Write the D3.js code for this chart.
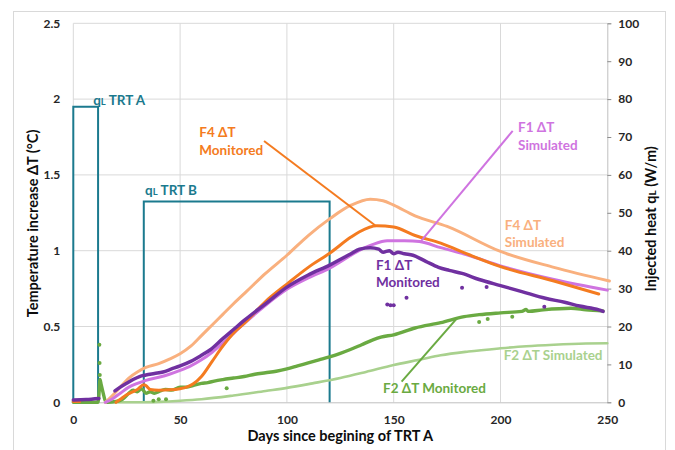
<!DOCTYPE html>
<html>
<head>
<meta charset="utf-8">
<script src="https://cdn.jsdelivr.net/npm/d3@7"></script>
<style>
  body { margin: 0; background: #fff; }
  text { font-family: Lato, "Open Sans", sans-serif; font-weight: bold; }
</style>
</head>
<body>
<div id="chart"></div>
<script>
// data: [day, ΔT °C]
const f4Simulated = [[15,0],[18,0.04],[22,0.1],[26,0.16],[30,0.2],[34,0.23],[40,0.255],[45,0.285],[50,0.32],[55,0.37],[60,0.44],[65,0.51],[70,0.58],[75,0.65],[81,0.73],[90,0.85],[100,0.97],[110,1.1],[120,1.21],[130,1.3],[139,1.34],[145,1.33],[150,1.3],[160,1.23],[175,1.16],[200,0.995],[225,0.89],[251,0.8]]
const f1Simulated = [[15,0],[18,0.02],[22,0.06],[26,0.1],[30,0.125],[34,0.145],[40,0.165],[45,0.185],[50,0.21],[55,0.24],[60,0.28],[65,0.33],[70,0.39],[80,0.52],[90,0.64],[100,0.745],[110,0.82],[120,0.885],[130,0.97],[135,1.01],[140,1.04],[147,1.066],[155,1.065],[162,1.06],[172,1.02],[185,0.97],[200,0.9],[225,0.81],[250,0.74]]
const f2Simulated = [[20,0],[30,0],[40,0.003],[50,0.01],[60,0.02],[75,0.045],[90,0.075],[100,0.095],[112,0.125],[125,0.16],[137,0.2],[150,0.246],[162,0.28],[172,0.31],[185,0.335],[200,0.356],[212,0.37],[225,0.38],[240,0.388],[250,0.39]]

const f4MonitoredA = [[0,0.005],[3,0.005]]
const f4MonitoredB = [[20,0],[22,0.02],[25,0.05],[28,0.07],[30,0.085],[33,0.115],[34,0.11],[36,0.085],[40,0.08],[45,0.082],[50,0.09],[53,0.1],[56,0.12],[60,0.17],[65,0.27],[70,0.37],[76,0.47],[80,0.52],[90,0.665],[100,0.78],[110,0.89],[120,0.983],[130,1.09],[134,1.125],[142,1.165],[150,1.156],[160,1.1],[172,1.05],[185,0.975],[200,0.895],[225,0.8],[246,0.714]]

const f1MonitoredA = [[0,0.015],[6,0.018],[12,0.025]]
const f1MonitoredB = [[19.5,0.075],[22,0.1],[25,0.125],[28,0.15],[31,0.17],[34,0.18],[38,0.19],[42,0.2],[46,0.22],[50,0.24],[55,0.27],[60,0.31],[64,0.345],[70,0.42],[75,0.48],[80,0.54],[90,0.65],[100,0.76],[110,0.84],[120,0.905],[130,0.98],[134,1.01],[139,1.02],[143,1.01],[145,0.99],[148,1.0],[150,0.98],[152,0.99],[155,0.98],[159,0.97],[165,0.93],[171,0.89],[176,0.87],[182,0.85],[190,0.81],[200,0.77],[210,0.73],[221,0.686],[230,0.66],[237,0.635],[246,0.61],[248,0.6]]
const f1Outliers = [[147,0.645],[148.5,0.64],[150,0.64],[156,0.69],[182,0.755],[193.5,0.76],[220.5,0.63]]

const f2Monitored = [[0,0],[11.5,0],[12,0.05],[12.5,0.15],[13,0.12],[14,0.06],[15,0.01],[16,0],[20,0.005],[23,0.02],[26,0.06],[28,0.08],[30,0.07],[32,0.09],[34,0.06],[36,0.07],[38,0.06],[40,0.07],[43,0.085],[46,0.08],[50,0.1],[53,0.1],[56,0.11],[60,0.125],[63,0.13],[66,0.14],[70,0.15],[75,0.16],[80,0.17],[85,0.185],[90,0.195],[95,0.205],[100,0.22],[105,0.24],[110,0.26],[115,0.28],[120,0.3],[125,0.323],[130,0.35],[135,0.38],[140,0.41],[144,0.43],[150,0.445],[160,0.49],[172,0.525],[183,0.565],[190,0.578],[200,0.59],[210,0.6],[212,0.612],[213,0.6],[220,0.61],[233,0.62],[240,0.61],[248,0.602]]
const f2Outliers = [[12.2,0.38],[12.3,0.26],[12.4,0.18],[37.5,0.01],[40,0.02],[43.4,0.02],[71.8,0.092],[190,0.53],[194,0.55],[205.5,0.565]]

// injected heat: [day start, day end, W/m]
const heatSteps = [[0, 11.6, 78], [33, 120, 53]]

const xTicks = [0, 50, 100, 150, 200, 250]
const yTicks = [0, 0.5, 1, 1.5, 2, 2.5]
const y2Ticks = [0, 10, 20, 30, 40, 50, 60, 70, 80, 90, 100]

const colors = {
  teal: '#1b7a8e', f4Mon: '#f47b20', f4Sim: '#f9b07e', f1Sim: '#cf74e0',
  f1Mon: '#7030a0', f2Mon: '#6aaa42', f2Sim: '#a9d18e'
}

const width = 675, height = 450
const marginLeft = 73.3, marginRight = 675 - 607.3, marginTop = 23.3, marginBottom = 450 - 402.3

const svg = d3.select('#chart').append('svg')
  .attr('width', width)
  .attr('height', height)

// outer frame
svg.append('rect')
  .attr('x', 13.5).attr('y', 11.5)
  .attr('width', 652).attr('height', 460)
  .attr('fill', 'none').attr('stroke', '#d9d9d9')

const x = d3.scaleLinear().domain([0, 250]).range([marginLeft, width - marginRight])
const y = d3.scaleLinear().domain([0, 2.5]).range([height - marginBottom, marginTop])
const y2 = d3.scaleLinear().domain([0, 100]).range([height - marginBottom, marginTop])

// grid
svg.append('g').selectAll('line')
  .data(yTicks.slice(1))
  .join('line')
  .attr('x1', x(0)).attr('x2', x(250))
  .attr('y1', d => y(d)).attr('y2', d => y(d))
  .attr('stroke', '#d9d9d9')
svg.append('g').selectAll('line')
  .data(xTicks.slice(0, -1))
  .join('line')
  .attr('x1', d => x(d)).attr('x2', d => x(d))
  .attr('y1', y(0)).attr('y2', y(2.5))
  .attr('stroke', '#d9d9d9')

// axes
const xAxis = svg.append('g')
  .attr('transform', `translate(0,${y(0)})`)
  .call(d3.axisBottom(x).tickValues(xTicks).tickSize(0).tickPadding(13))
const yAxis = svg.append('g')
  .attr('transform', `translate(${x(0) - 10},0)`)
  .call(d3.axisLeft(y).tickValues(yTicks).tickSize(0).tickFormat(d3.format('')))
const y2Axis = svg.append('g')
  .attr('transform', `translate(${x(250)},0)`)
  .call(d3.axisRight(y2).tickValues(y2Ticks).tickSize(4).tickPadding(7))

xAxis.select('.domain').attr('stroke', '#bfbfbf')
yAxis.select('.domain').remove()
y2Axis.select('.domain').attr('stroke', '#bfbfbf')
y2Axis.selectAll('.tick line').attr('stroke', '#8c8c8c')
svg.selectAll('.tick text')
  .attr('font-family', 'Lato, sans-serif')
  .attr('font-weight', 'bold')
  .attr('font-size', 12)
  .attr('fill', '#262626')

// axis titles
svg.append('text')
  .attr('x', (x(0) + x(250)) / 2).attr('y', 441)
  .attr('text-anchor', 'middle').attr('font-size', 14.5).attr('fill', '#0d0d0d')
  .text('Days since begining of TRT A')
svg.append('text')
  .attr('transform', `translate(38,${y(1.18)}) rotate(-90)`)
  .attr('text-anchor', 'middle').attr('font-size', 14.5).attr('fill', '#0d0d0d')
  .text('Temperature increase ΔT (°C)')
const rightTitle = svg.append('text')
  .attr('transform', `translate(656,${y(1.21)}) rotate(-90)`)
  .attr('text-anchor', 'middle').attr('font-size', 14.5).attr('fill', '#0d0d0d')
rightTitle.append('tspan').text('Injected heat q')
rightTitle.append('tspan').attr('font-size', 10).text('L')
rightTitle.append('tspan').text(' (W/m)')

// heat input steps (right axis)
svg.append('g').selectAll('path')
  .data(heatSteps)
  .join('path')
  .attr('d', d => d3.line()([[x(d[0]), y2(0)], [x(d[0]), y2(d[2])], [x(d[1]), y2(d[2])], [x(d[1]), y2(0)]]))
  .attr('fill', 'none')
  .attr('stroke', colors.teal)
  .attr('stroke-width', 2)

const line = d3.line()
  .x(d => x(d[0]))
  .y(d => y(d[1]))
  .curve(d3.curveMonotoneX)

const series = [
  { data: f2Simulated, color: colors.f2Sim, w: 2.6 },
  { data: f2Monitored, color: colors.f2Mon, w: 3.4 },
  { data: f4Simulated, color: colors.f4Sim, w: 3 },
  { data: f1Simulated, color: colors.f1Sim, w: 3 },
  { data: f4MonitoredA, color: colors.f4Mon, w: 3 },
  { data: f4MonitoredB, color: colors.f4Mon, w: 3 },
  { data: f1MonitoredA, color: colors.f1Mon, w: 3.5 },
  { data: f1MonitoredB, color: colors.f1Mon, w: 3.5 }
]

svg.append('g').selectAll('path')
  .data(series)
  .join('path')
  .attr('d', d => line(d.data))
  .attr('fill', 'none')
  .attr('stroke', d => d.color)
  .attr('stroke-width', d => d.w)
  .attr('stroke-linecap', 'round')
  .attr('stroke-linejoin', 'round')

// stray monitored readings
svg.append('g').selectAll('circle')
  .data(f2Outliers)
  .join('circle')
  .attr('cx', d => x(d[0])).attr('cy', d => y(d[1])).attr('r', 2)
  .attr('fill', colors.f2Mon)
svg.append('g').selectAll('circle')
  .data(f1Outliers)
  .join('circle')
  .attr('cx', d => x(d[0])).attr('cy', d => y(d[1])).attr('r', 2)
  .attr('fill', colors.f1Mon)

// leader lines: [from day, from ΔT, to day, to ΔT]
const leaders = [
  { p: [89.3, 1.724, 141.7, 1.163], color: colors.f4Mon },
  { p: [205.7, 1.79, 162.3, 1.055], color: colors.f1Sim },
  { p: [153.7, 0.136, 179.5, 0.552], color: colors.f2Mon }
]
svg.append('g').selectAll('line')
  .data(leaders)
  .join('line')
  .attr('x1', d => x(d.p[0])).attr('y1', d => y(d.p[1]))
  .attr('x2', d => x(d.p[2])).attr('y2', d => y(d.p[3]))
  .attr('stroke', d => d.color)
  .attr('stroke-width', 2)

// labels: anchor day / ΔT of first baseline
const labels = [
  { day: 59, v: 1.75, lines: ['F4 ΔT', 'Monitored'], color: colors.f4Mon },
  { day: 208.2, v: 1.78, lines: ['F1 ΔT', 'Simulated'], color: colors.f1Sim },
  { day: 202, v: 1.137, lines: ['F4 ΔT', 'Simulated'], color: colors.f4Sim },
  { day: 141.7, v: 0.873, lines: ['F1 ΔT', 'Monitored'], color: colors.f1Mon },
  { day: 201.5, v: 0.279, lines: ['F2 ΔT Simulated'], color: colors.f2Sim },
  { day: 145, v: 0.061, lines: ['F2 ΔT Monitored'], color: colors.f2Mon }
]
labels.forEach(l => {
  const t = svg.append('text')
    .attr('x', x(l.day)).attr('y', y(l.v))
    .attr('font-size', 13.5).attr('fill', l.color)
  l.lines.forEach((s, i) => {
    t.append('tspan').attr('x', x(l.day)).attr('dy', i ? 17.5 : 0).text(s)
  })
})

const heatLabels = [
  { day: 9.3, v: 1.96, name: ' TRT A' },
  { day: 33.6, v: 1.37, name: ' TRT B' }
]
heatLabels.forEach(l => {
  const t = svg.append('text')
    .attr('x', x(l.day)).attr('y', y(l.v))
    .attr('font-size', 13.5).attr('fill', colors.teal)
  t.append('tspan').text('q')
  t.append('tspan').attr('font-size', 9.5).text('L')
  t.append('tspan').text(l.name)
})
</script>
</body>
</html>
